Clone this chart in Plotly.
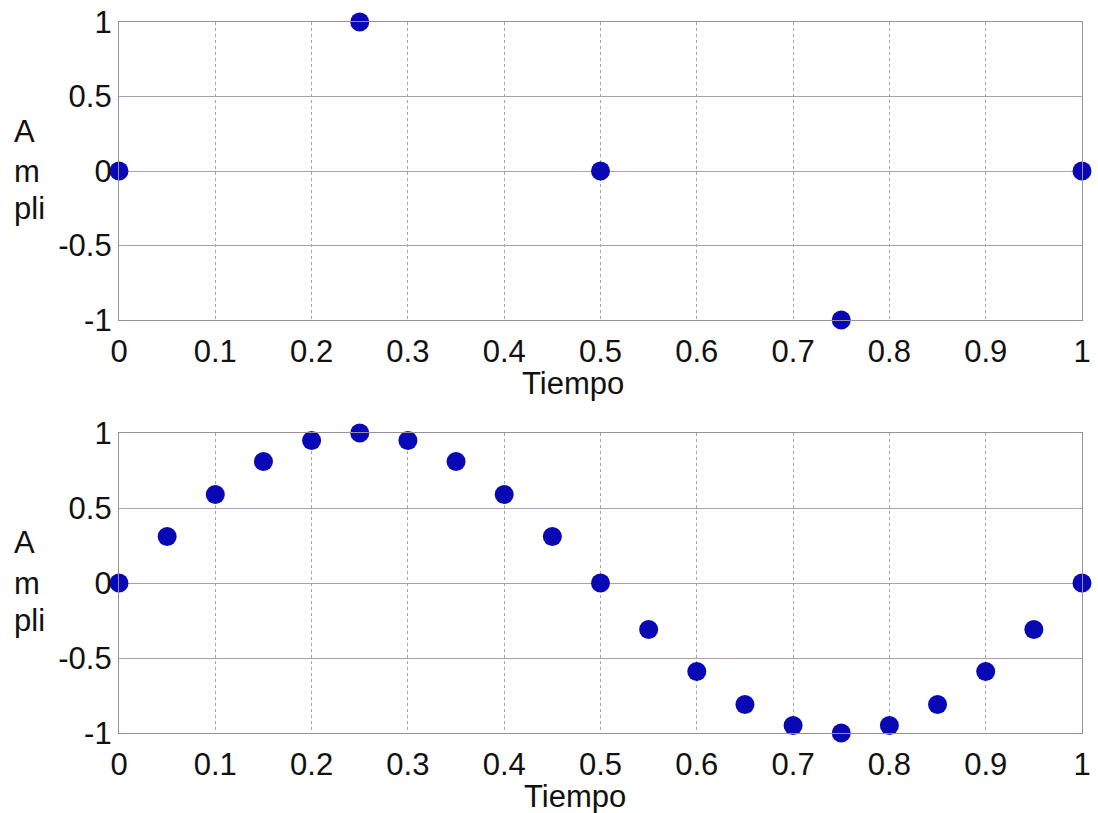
import plotly.graph_objects as go

# Data
t_top = [0, 0.25, 0.5, 0.75, 1.0]
a_top = [0, 1, 0, -1, 0]

t_bottom = [0, 0.05, 0.1, 0.15, 0.2, 0.25, 0.3, 0.35, 0.4, 0.45, 0.5,
            0.55, 0.6, 0.65, 0.7, 0.75, 0.8, 0.85, 0.9, 0.95, 1.0]
a_bottom = [0, 0.31, 0.59, 0.81, 0.95, 1, 0.95, 0.81, 0.59, 0.31, 0,
            -0.31, -0.59, -0.81, -0.95, -1, -0.95, -0.81, -0.59, -0.31, 0]

x_ticks = [0, 0.1, 0.2, 0.3, 0.4, 0.5, 0.6, 0.7, 0.8, 0.9, 1]
x_ticktext = ["0", "0.1", "0.2", "0.3", "0.4", "0.5", "0.6", "0.7", "0.8", "0.9", "1"]
y_ticks = [-1, -0.5, 0, 0.5, 1]
y_ticktext = ["-1", "-0.5", "0", "0.5", "1"]

x_title = "Tiempo"
y_title_lines = ["A", "m", "pli"]

W, H = 1098, 813
ml, mr, mt, mb = 119, 16, 22, 80
ph = H - mt - mb

fig = go.Figure()
marker = dict(color="#0808b4", size=19, line=dict(width=0))
fig.add_trace(go.Scatter(x=t_top, y=a_top, mode="markers", marker=marker,
                         xaxis="x", yaxis="y", cliponaxis=False, showlegend=False))
fig.add_trace(go.Scatter(x=t_bottom, y=a_bottom, mode="markers", marker=marker,
                         xaxis="x2", yaxis="y2", cliponaxis=False, showlegend=False))

fam = "Liberation Sans, Arial, sans-serif"
tick_font = dict(family=fam, size=31, color="#111111")
title_font = dict(family=fam, size=31, color="#111111")
grid_c = "#ad9fad"
line_c = "#9c8c9c"

def xaxis(anchor):
    return dict(range=[0, 1], tickvals=x_ticks, ticktext=x_ticktext, tickfont=tick_font,
                showgrid=True, gridcolor=grid_c, griddash="dot", gridwidth=1.3,
                showline=True, linecolor=line_c, linewidth=1.3, mirror=True,
                ticks="", zeroline=False, anchor=anchor, ticklabelstandoff=4,
                automargin=False, ticklabeloverflow="allow")

def yaxis(anchor, dom):
    return dict(range=[-1, 1], tickvals=y_ticks, ticktext=y_ticktext, tickfont=tick_font,
                showgrid=True, gridcolor=grid_c, gridwidth=1.3,
                showline=True, linecolor=line_c, linewidth=1.3, mirror=True,
                ticks="", zeroline=False, anchor=anchor, domain=dom,
                ticklabelstandoff=0, automargin=False, ticklabeloverflow="allow")

def fy(py):  # pixel y -> paper y
    return (H - mb - py) / ph

def fx(px):  # pixel x -> paper x
    return (px - ml) / (W - ml - mr)

top_dom = [fy(320), 1]
bot_dom = [0, fy(433)]

fig.update_layout(
    width=W, height=H,
    margin=dict(l=ml, r=mr, t=mt, b=mb),
    paper_bgcolor="white", plot_bgcolor="white",
    xaxis=xaxis("y"), yaxis=yaxis("x", top_dom),
    xaxis2=xaxis("y2"), yaxis2=yaxis("x2", bot_dom),
    hovermode=False,
)

for xp, yp in ((573, 384), (575, 796)):
    fig.add_annotation(x=fx(xp), y=fy(yp), xref="paper", yref="paper",
                       text=x_title, showarrow=False, font=title_font, xanchor="center",
                       yanchor="middle")

for base in (0, 411):
    for txt, yc in zip(y_title_lines, (131, 172, 209)):
        fig.add_annotation(x=fx(12), y=fy(yc + base), xref="paper", yref="paper",
                           text=txt, showarrow=False, font=title_font, xanchor="left",
                           yanchor="middle", align="left")

fig.write_html("out.html", config={"displayModeBar": False},
               post_script="document.body.style.margin='0';document.body.style.overflow='hidden';")
